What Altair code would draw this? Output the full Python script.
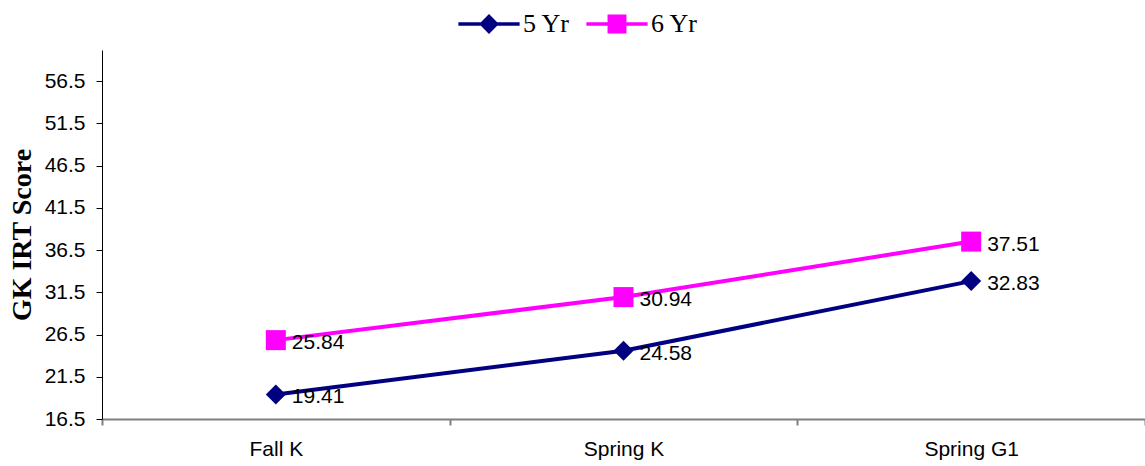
import altair as alt
import pandas as pd

categories = ["Fall K", "Spring K", "Spring G1"]
series_names = ["5 Yr", "6 Yr"]
yr5 = [19.41, 24.58, 32.83]
yr6 = [25.84, 30.94, 37.51]
y_ticks = [16.5, 21.5, 26.5, 31.5, 36.5, 41.5, 46.5, 51.5, 56.5]
colors = ["#000080", "#FF00FF"]

rows = []
for s, vals in zip(series_names, [yr5, yr6]):
    for c, v in zip(categories, vals):
        rows.append({"period": c, "series": s, "score": v})
df = pd.DataFrame(rows)

x_enc = alt.X(
    "period:N",
    sort=categories,
    scale=alt.Scale(type="band", paddingInner=0, paddingOuter=0),
    axis=alt.Axis(
        title=None, labelAngle=0, tickBand="extent", tickSize=6,
        domainColor="#808080", domainWidth=2, tickColor="#808080", tickWidth=2,
        labelFont="Liberation Sans", labelFontSize=21, labelColor="black",
        labelPadding=13, grid=False,
    ),
)
y_enc = alt.Y(
    "score:Q",
    scale=alt.Scale(domain=[16.5, 60.2], nice=False, zero=False),
    axis=alt.Axis(
        title="GK IRT Score", values=y_ticks, format=".1f", tickSize=6,
        domainColor="black", domainWidth=1, tickColor="black", tickWidth=1,
        labelFont="Liberation Sans", labelFontSize=21, labelColor="black",
        labelPadding=11, grid=False,
        titleFont="Liberation Serif", titleFontSize=28, titleFontWeight="bold",
        titleColor="black", titleX=-66, titleAngle=270,
    ),
)

color_scale = alt.Scale(domain=series_names, range=colors)

p5 = "M-3.4,-0.2H3.4V0.2H-3.4Z M0,-1.1L1.1,0L0,1.1L-1.1,0Z"
p6 = "M-3.4,-0.2H3.4V0.2H-3.4Z M-1.05,-1.05H1.05V1.05H-1.05Z"

legend = alt.Legend(
    title=None, orient="none", legendX=374, legendY=-39, direction="horizontal",
    symbolSize=324, symbolStrokeWidth=0, symbolOpacity=1, labelFont="Liberation Serif",
    labelFontSize=26, labelColor="black", labelOffset=21, columnPadding=16,
    padding=0,
)

color_enc = alt.Color("series:N", scale=color_scale, legend=legend)

base = alt.Chart(df)

lines = base.mark_line(strokeWidth=4).encode(
    x=x_enc, y=y_enc, color=color_enc,
)

pts5 = base.transform_filter(alt.datum.series == "5 Yr").mark_point(
    filled=True, opacity=1, shape="diamond", size=400
).encode(x=x_enc, y=y_enc, color=color_enc)

pts6 = base.transform_filter(alt.datum.series == "6 Yr").mark_point(
    filled=True, opacity=1, shape="square", size=400
).encode(x=x_enc, y=y_enc, color=color_enc)

legend_layer = base.transform_filter("false").mark_point(filled=True, opacity=1).encode(
    x=x_enc, y=y_enc, color=color_enc,
    shape=alt.Shape("series:N", scale=alt.Scale(domain=series_names, range=[p5, p6]), legend=legend),
)

labels = base.mark_text(align="left", baseline="middle", dx=16, dy=3,
                        font="Liberation Sans", fontSize=21, color="black").encode(
    x=x_enc, y=y_enc,
    text=alt.Text("score:Q", format=".2f"),
)

chart = alt.layer(lines, pts5, pts6, labels, legend_layer).properties(
    width=1043, height=369,
    padding={"left": 102, "top": 50, "right": 0, "bottom": 47},
    autosize=alt.AutoSizeParams(type="none"),
    background="white",
).configure_view(stroke=None)

chart.save("out.html", embed_options={"renderer": "svg", "actions": False})
